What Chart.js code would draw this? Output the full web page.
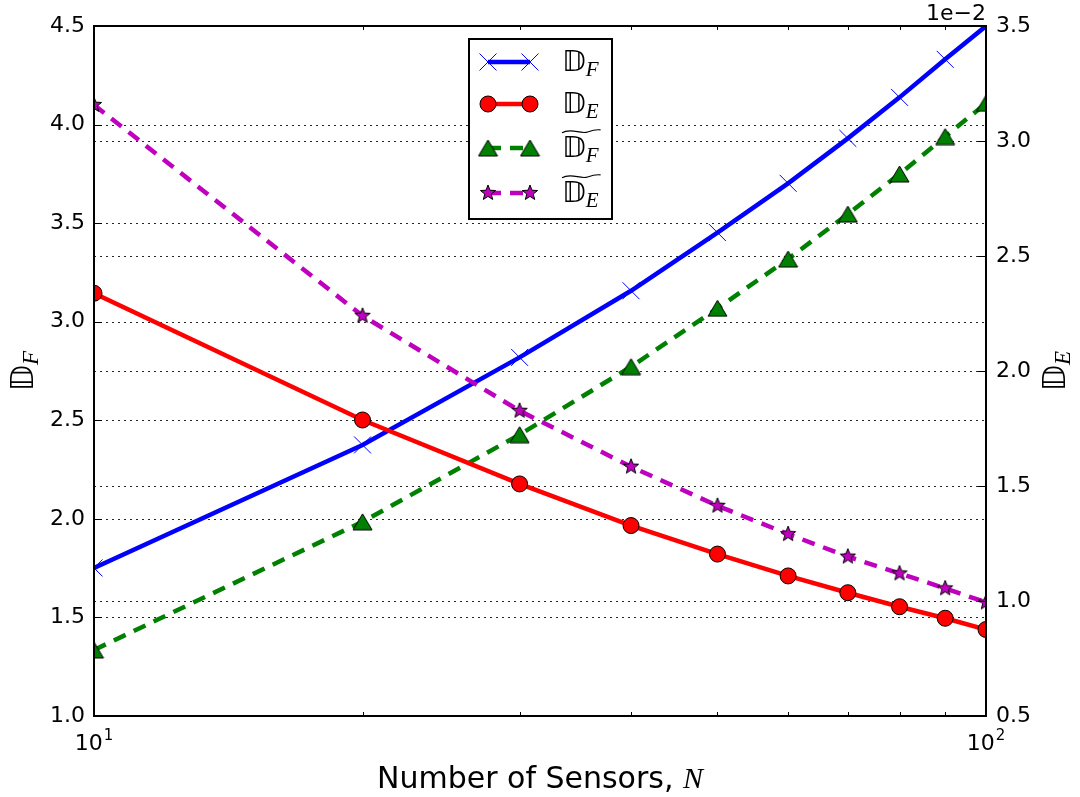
<!DOCTYPE html>
<html>
<head>
<meta charset="utf-8">
<script src="https://cdn.jsdelivr.net/npm/chart.js@4.4.0/dist/chart.umd.min.js"></script>
<style>
  html, body { margin: 0; padding: 0; background: #ffffff; }
  #wrap { width: 1080px; height: 797px; position: relative; }
</style>
</head>
<body>
<div id="wrap"><canvas id="chart" width="1080" height="797"></canvas></div>
<script>
// Number of sensors (log-scaled x axis)
const sensors = [10, 20, 30, 40, 50, 60, 70, 80, 90, 100];

// Left-axis series
const dF      = [1.751, 2.375, 2.819, 3.157, 3.452, 3.702, 3.930, 4.138, 4.331, 4.500];
const dFTilde = [1.335, 1.985, 2.427, 2.772, 3.068, 3.318, 3.546, 3.749, 3.939, 4.108];

// Right-axis series, in units of 1e-2
const dE      = [2.338, 1.787, 1.509, 1.328, 1.204, 1.109, 1.036, 0.975, 0.925, 0.876];
const dETilde = [3.157, 2.240, 1.827, 1.584, 1.414, 1.291, 1.193, 1.120, 1.055, 0.994];

// Axis ranges and tick labels
const leftRange = [1.0, 4.5];
const rightRange = [0.5, 3.5];
const yStep = 0.5;
const xMajorTicks = [10, 100];
const xTickBase = '10';
const xTickExps = ['1', '2'];
const xMinorTicks = [20, 30, 40, 50, 60, 70, 80, 90];
const rightOffsetText = '1e\u22122';
const xTitle = 'Number of Sensors, ';
const xTitleVar = 'N';
const symbolChar = '\u{1D53B}';
const legendSubs = ['F', 'E', 'F', 'E'];
const legendTildes = [false, false, true, true];

const FONT = '"DejaVu Sans", sans-serif';
const MATH_FONT = '"DejaVu Sans", "DejaVu Serif", sans-serif';
const ITALIC_FONT = '"Liberation Serif", "DejaVu Serif", serif';

// Marker images: triangle and five-pointed star
function makeTriangle(w, h, fill) {
  const c = document.createElement('canvas');
  c.width = w + 2; c.height = h + 2;
  const g = c.getContext('2d');
  g.beginPath();
  g.moveTo(c.width / 2, 1);
  g.lineTo(c.width - 1, c.height - 1);
  g.lineTo(1, c.height - 1);
  g.closePath();
  g.fillStyle = fill; g.fill();
  g.lineWidth = 1; g.strokeStyle = '#000'; g.stroke();
  return c;
}
function makeStar(R, r, fill) {
  const size = Math.ceil(2 * R + 4);
  const c = document.createElement('canvas');
  c.width = size; c.height = size;
  const g = c.getContext('2d');
  const cx = size / 2, cy = size / 2;
  g.beginPath();
  for (let i = 0; i < 10; i++) {
    const rad = (i % 2 === 0) ? R : r;
    const a = -Math.PI / 2 + i * Math.PI / 5;
    const px = cx + rad * Math.cos(a), py = cy + rad * Math.sin(a);
    if (i === 0) g.moveTo(px, py); else g.lineTo(px, py);
  }
  g.closePath();
  g.fillStyle = fill; g.fill();
  g.lineWidth = 1; g.strokeStyle = '#000'; g.stroke();
  return c;
}
const triImg = makeTriangle(19, 16, '#008000');
const starImg = makeStar(8, 3.4, '#bf00bf');

const toPoints = ys => sensors.map((x, i) => ({ x: x, y: ys[i] }));

// Draws the double-struck symbol with an italic subscript (and optional wide tilde)
function drawSymbol(ctx, x, y, sub, size, tilde) {
  ctx.save();
  ctx.fillStyle = '#000';
  ctx.textAlign = 'left';
  ctx.textBaseline = 'alphabetic';
  ctx.font = size + 'px ' + MATH_FONT;
  const w1 = ctx.measureText(symbolChar).width;
  ctx.fillText(symbolChar, x, y);
  const subSize = Math.round(size * 0.72);
  ctx.font = 'italic ' + subSize + 'px ' + ITALIC_FONT;
  const w2 = ctx.measureText(sub).width;
  ctx.fillText(sub, x + w1, y + size * 0.16);
  const total = w1 + w2;
  if (tilde) {
    const ty = y - size * 0.88;
    const amp = size * 0.09;
    ctx.beginPath();
    ctx.moveTo(x, ty + amp * 0.5);
    ctx.bezierCurveTo(x + total * 0.25, ty - amp * 1.6, x + total * 0.5, ty + amp * 1.2, x + total * 0.7, ty + amp * 0.2);
    ctx.bezierCurveTo(x + total * 0.82, ty - amp * 0.4, x + total * 0.92, ty - amp * 0.9, x + total + 2, ty - amp * 0.6);
    ctx.lineWidth = 1.2;
    ctx.strokeStyle = '#000';
    ctx.stroke();
  }
  ctx.restore();
  return total;
}
function symbolWidth(ctx, sub, size) {
  ctx.save();
  ctx.font = size + 'px ' + MATH_FONT;
  const w1 = ctx.measureText(symbolChar).width;
  ctx.font = 'italic ' + Math.round(size * 0.72) + 'px ' + ITALIC_FONT;
  const w2 = ctx.measureText(sub).width;
  ctx.restore();
  return w1 + w2;
}

const datasets = [
  {
    label: 'DF', data: toPoints(dF), yAxisID: 'yL', order: 3, clip: 0,
    borderColor: '#0000ff', borderWidth: 4.5,
    pointStyle: 'crossRot', pointRadius: 12, pointBorderWidth: 1,
    pointBorderColor: '#0000ff', pointBackgroundColor: '#0000ff'
  },
  {
    label: 'DE', data: toPoints(dE), yAxisID: 'yR', order: 1, clip: 0,
    borderColor: '#ff0000', borderWidth: 4.5,
    pointStyle: 'circle', pointRadius: 8, pointBorderWidth: 1,
    pointBorderColor: '#000000', pointBackgroundColor: '#ff0000'
  },
  {
    label: 'DF~', data: toPoints(dFTilde), yAxisID: 'yL', order: 2, clip: 0,
    borderColor: '#008000', borderWidth: 4.5, borderDash: [13, 9],
    pointStyle: triImg, pointRadius: 10
  },
  {
    label: 'DE~', data: toPoints(dETilde), yAxisID: 'yR', order: 0, clip: 0,
    borderColor: '#bf00bf', borderWidth: 4.5, borderDash: [13, 9],
    pointStyle: starImg, pointRadius: 8
  }
];

// Dotted horizontal grid for both value axes
const gridPlugin = {
  id: 'dottedGrid',
  beforeDatasetsDraw(chart) {
    const { ctx, chartArea: a } = chart;
    ctx.save();
    ctx.strokeStyle = 'rgba(0,0,0,0.85)';
    ctx.lineWidth = 1;
    ctx.setLineDash([2, 4]);
    ['yL', 'yR'].forEach(id => {
      const s = chart.scales[id];
      s.ticks.forEach(t => {
        const py = Math.round(s.getPixelForValue(t.value)) + 0.5;
        ctx.beginPath();
        ctx.moveTo(a.left, py);
        ctx.lineTo(a.right, py);
        ctx.stroke();
      });
    });
    ctx.restore();
  }
};

// Frame, inward ticks, x tick labels, axis titles, offset text and legend
const decorPlugin = {
  id: 'decor',
  afterDatasetsDraw(chart) {
    const { ctx, chartArea: a } = chart;
    const xs = chart.scales.x, yl = chart.scales.yL, yr = chart.scales.yR;
    ctx.save();
    ctx.strokeStyle = '#000';
    ctx.lineWidth = 1;
    ctx.setLineDash([]);
    // y ticks
    yl.ticks.forEach(t => {
      const py = Math.round(yl.getPixelForValue(t.value)) + 0.5;
      ctx.beginPath(); ctx.moveTo(a.left, py); ctx.lineTo(a.left + 8, py); ctx.stroke();
    });
    yr.ticks.forEach(t => {
      const py = Math.round(yr.getPixelForValue(t.value)) + 0.5;
      ctx.beginPath(); ctx.moveTo(a.right, py); ctx.lineTo(a.right - 8, py); ctx.stroke();
    });
    // x ticks (top and bottom)
    const xTick = (v, len) => {
      const px = Math.round(xs.getPixelForValue(v)) + 0.5;
      ctx.beginPath(); ctx.moveTo(px, a.bottom); ctx.lineTo(px, a.bottom - len); ctx.stroke();
      ctx.beginPath(); ctx.moveTo(px, a.top); ctx.lineTo(px, a.top + len); ctx.stroke();
    };
    xMinorTicks.forEach(v => xTick(v, 4));
    xMajorTicks.forEach(v => xTick(v, 8));
    // frame
    ctx.lineWidth = 2;
    ctx.strokeRect(a.left, a.top, a.right - a.left, a.bottom - a.top);

    // x tick labels with superscript exponents
    ctx.fillStyle = '#000';
    ctx.textBaseline = 'alphabetic';
    xMajorTicks.forEach((v, i) => {
      const px = xs.getPixelForValue(v);
      ctx.font = '22px ' + FONT;
      const wb = ctx.measureText(xTickBase).width;
      ctx.font = '15px ' + FONT;
      const we = ctx.measureText(xTickExps[i]).width;
      const x0 = px - (wb + we + 1) / 2;
      ctx.font = '22px ' + FONT;
      ctx.textAlign = 'left';
      ctx.fillText(xTickBase, x0, 750);
      ctx.font = '15px ' + FONT;
      ctx.fillText(xTickExps[i], x0 + wb + 1, 740);
    });

    // x axis title
    ctx.font = '30px ' + FONT;
    const wt = ctx.measureText(xTitle).width;
    ctx.font = 'italic 30px ' + ITALIC_FONT;
    const wn = ctx.measureText(xTitleVar).width;
    const tx = (a.left + a.right) / 2 - (wt + wn) / 2;
    ctx.font = '30px ' + FONT;
    ctx.fillText(xTitle, tx, 788);
    ctx.font = 'italic 30px ' + ITALIC_FONT;
    ctx.fillText(xTitleVar, tx + wt, 788);

    // offset text of the right axis
    ctx.font = '22px ' + FONT;
    ctx.textAlign = 'right';
    ctx.fillText(rightOffsetText, a.right, 20);

    // rotated y axis titles
    const midY = (a.top + a.bottom) / 2;
    [[33, 'F'], [1065, 'E']].forEach(([bx, sub]) => {
      ctx.save();
      ctx.translate(bx, midY);
      ctx.rotate(-Math.PI / 2);
      const w = symbolWidth(ctx, sub, 32);
      drawSymbol(ctx, -w / 2, 0, sub, 32, false);
      ctx.restore();
    });

    // legend
    const box = { x: 469, y: 39, w: 143, h: 180 };
    ctx.fillStyle = '#ffffff';
    ctx.fillRect(box.x, box.y, box.w, box.h);
    ctx.lineWidth = 2;
    ctx.strokeStyle = '#000';
    ctx.strokeRect(box.x, box.y, box.w, box.h);
    const rows = [62, 104, 148, 193];
    const x1 = 488, x2 = 530;
    chart.data.datasets.forEach((ds, i) => {
      const ry = rows[i];
      ctx.save();
      ctx.beginPath();
      ctx.setLineDash(ds.borderDash || []);
      ctx.lineWidth = ds.borderWidth;
      ctx.strokeStyle = ds.borderColor;
      ctx.moveTo(x1, ry); ctx.lineTo(x2, ry);
      ctx.stroke();
      ctx.setLineDash([]);
      ctx.fillStyle = ds.pointBackgroundColor || ds.borderColor;
      ctx.strokeStyle = ds.pointBorderColor || ds.borderColor;
      ctx.lineWidth = ds.pointBorderWidth || 1;
      [x1, x2].forEach(px => {
        Chart.helpers.drawPoint(ctx, {
          pointStyle: ds.pointStyle, radius: ds.pointRadius, rotation: 0,
          borderWidth: ds.pointBorderWidth || 1
        }, px, ry);
      });
      ctx.restore();
      drawSymbol(ctx, 562, ry + 9, legendSubs[i], 29, legendTildes[i]);
    });
    ctx.restore();
  }
};

new Chart(document.getElementById('chart'), {
  type: 'line',
  data: { datasets: datasets },
  options: {
    responsive: false,
    animation: false,
    devicePixelRatio: 1,
    layout: { padding: { top: 26, left: 0, right: 0, bottom: 0 } },
    plugins: { legend: { display: false }, tooltip: { enabled: false } },
    scales: {
      x: {
        type: 'logarithmic', min: 10, max: 100, position: 'bottom',
        grid: { display: false, drawTicks: false },
        border: { display: false },
        ticks: { display: false },
        afterFit(s) { s.height = 81; }
      },
      yL: {
        type: 'linear', position: 'left', min: leftRange[0], max: leftRange[1],
        grid: { display: false, drawTicks: false },
        border: { display: false },
        ticks: {
          stepSize: yStep, padding: 9, color: '#000',
          font: { family: 'DejaVu Sans', size: 22 },
          callback: v => Number(v).toFixed(1)
        },
        afterFit(s) { s.width = 94; }
      },
      yR: {
        type: 'linear', position: 'right', min: rightRange[0], max: rightRange[1],
        grid: { display: false, drawTicks: false },
        border: { display: false },
        ticks: {
          stepSize: yStep, padding: 10, color: '#000',
          font: { family: 'DejaVu Sans', size: 22 },
          callback: v => Number(v).toFixed(1)
        },
        afterFit(s) { s.width = 94; }
      }
    }
  },
  plugins: [gridPlugin, decorPlugin]
});
</script>
</body>
</html>
